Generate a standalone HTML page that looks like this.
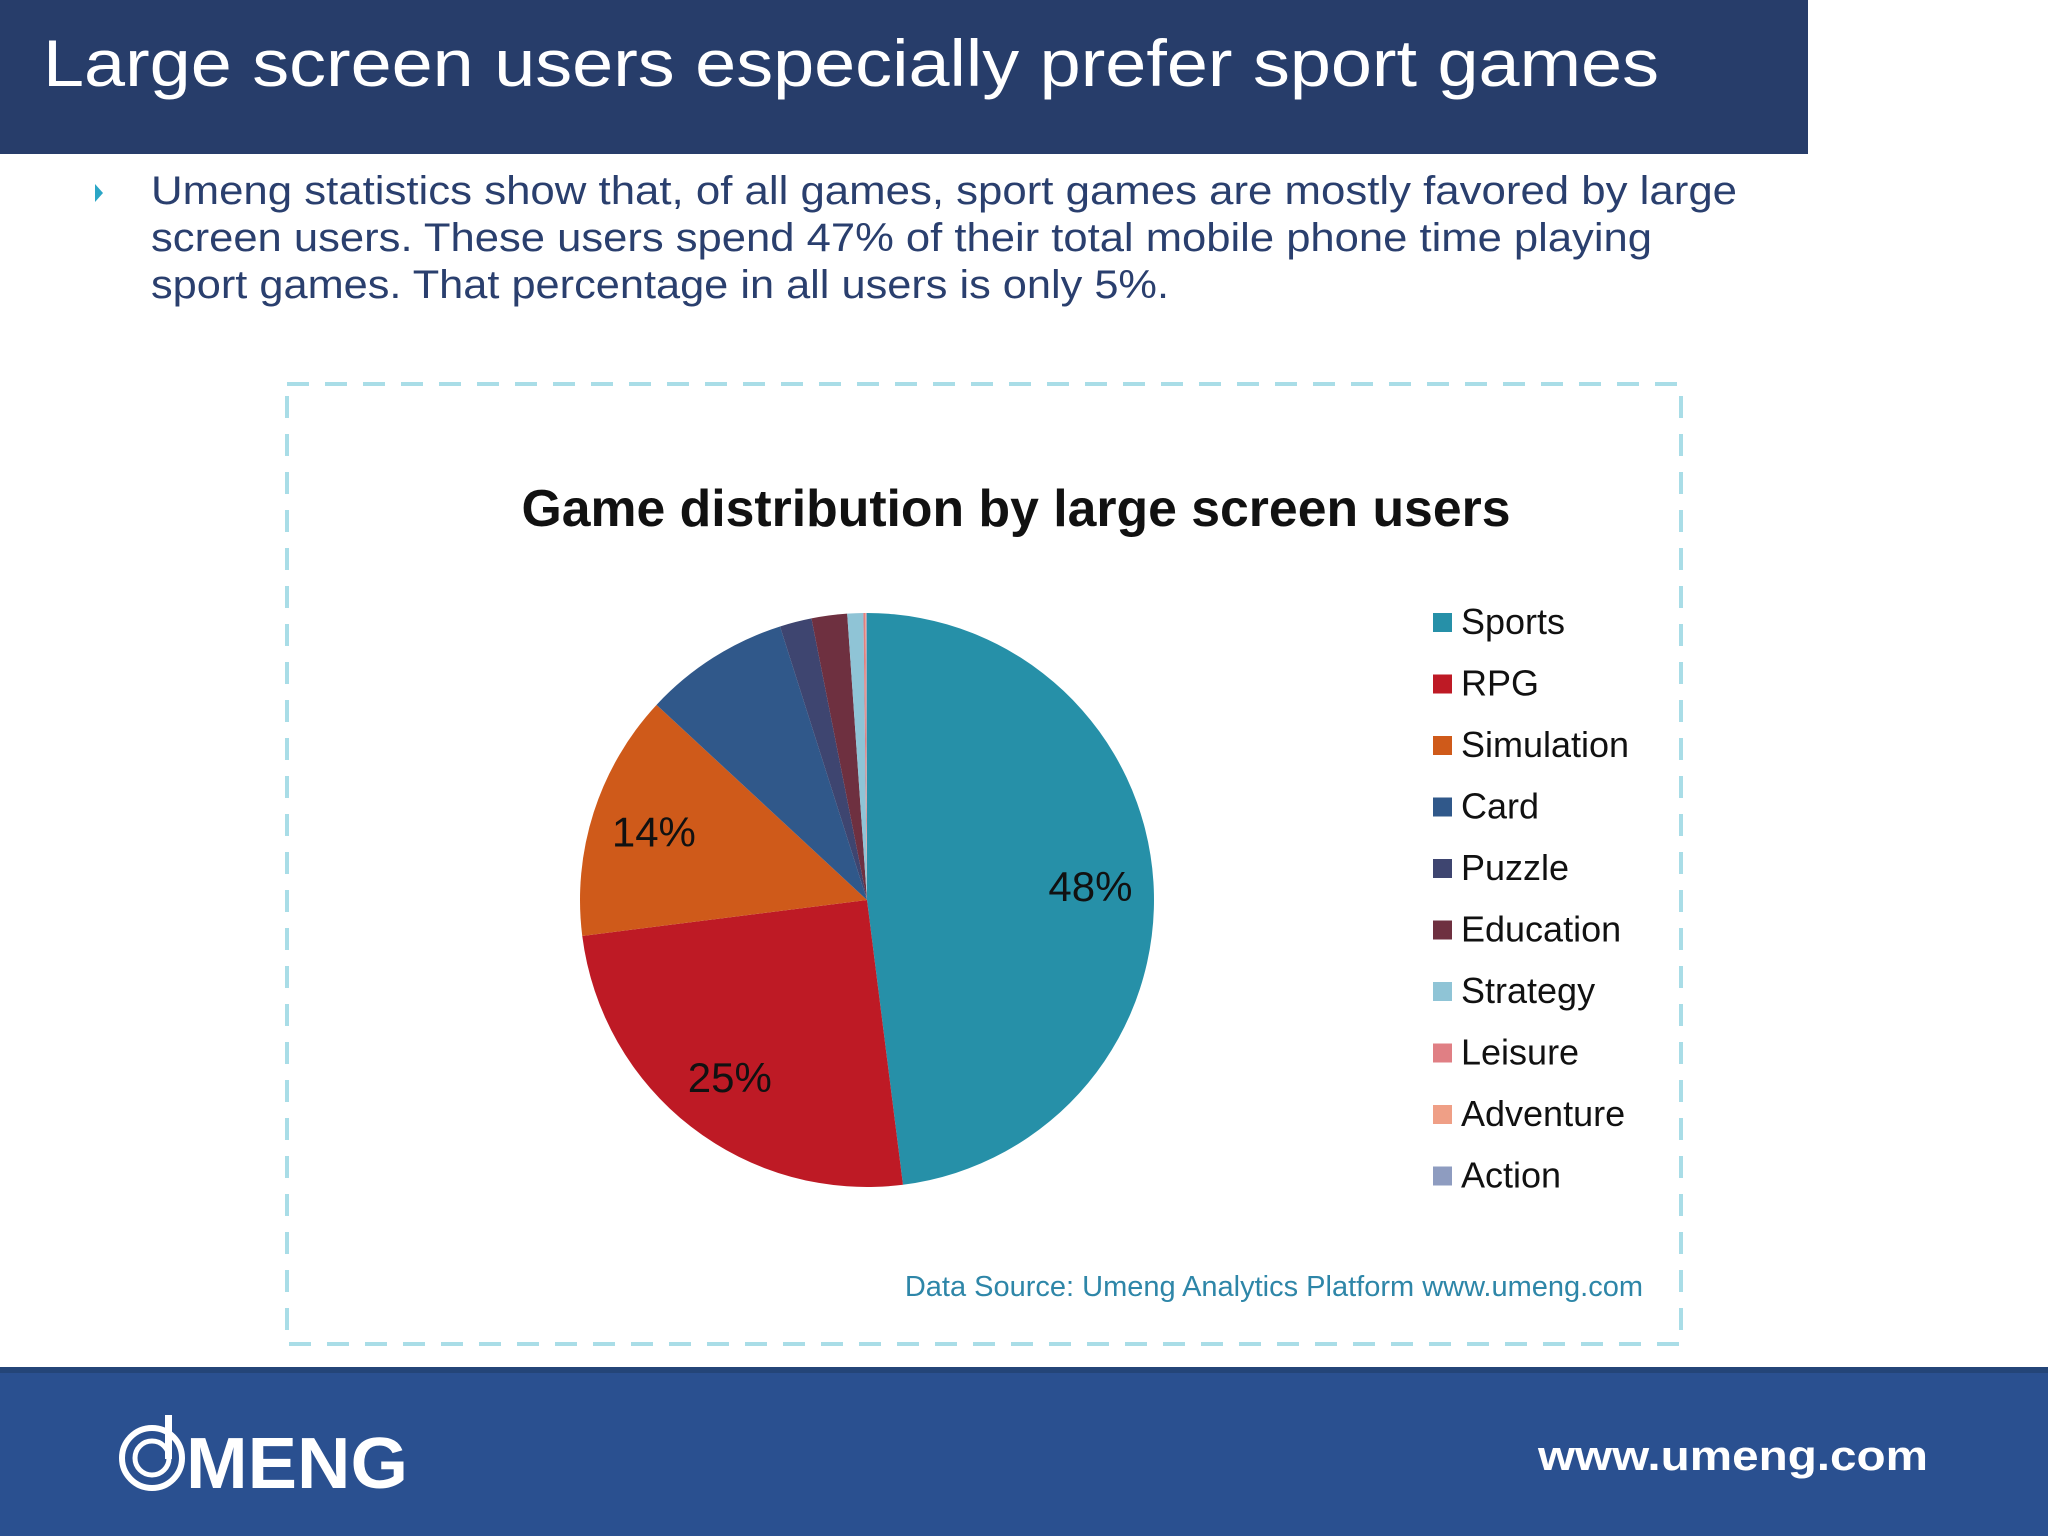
<!DOCTYPE html>
<html><head><meta charset="utf-8"><style>
html,body{margin:0;padding:0;background:#fff}
svg{display:block}
text{font-family:"Liberation Sans","DejaVu Sans",sans-serif}
</style></head><body>
<svg id="s" width="2048" height="1536" viewBox="0 0 2048 1536">
<rect x="0" y="0" width="1808" height="154" fill="#273d6a"/>
<text x="43" y="86" font-size="66" fill="#fff" textLength="1616" lengthAdjust="spacingAndGlyphs">Large screen users especially prefer sport games</text>
<polygon points="95,184 103,193 95,202" fill="#2ba6c6"/>
<g fill="#2a3f6e" font-size="40">
<text x="151" y="204" textLength="1586" lengthAdjust="spacingAndGlyphs">Umeng statistics show that, of all games, sport games are mostly favored by large</text>
<text x="151" y="251" textLength="1501" lengthAdjust="spacingAndGlyphs">screen users. These users spend 47% of their total mobile phone time playing</text>
<text x="151" y="298" textLength="1018" lengthAdjust="spacingAndGlyphs">sport games. That percentage in all users is only 5%.</text>
</g>
<rect x="287" y="384" width="1394" height="960" fill="none" stroke="#a9dde7" stroke-width="4" stroke-dasharray="22,16"/>
<text x="1016" y="526" font-size="52" font-weight="bold" fill="#111" text-anchor="middle" textLength="989" lengthAdjust="spacingAndGlyphs">Game distribution by large screen users</text>
<g id="pie"></g>
<g id="legend"></g>
<text x="1643" y="1296" font-size="29" fill="#2e86a8" text-anchor="end">Data Source: Umeng Analytics Platform www.umeng.com</text>
<rect x="0" y="1367" width="2048" height="169" fill="#2a5090"/>
<rect x="0" y="1367" width="2048" height="6" fill="#244578"/>
<g>
<circle cx="152" cy="1458" r="30" fill="none" stroke="#fff" stroke-width="6"/>
<circle cx="152" cy="1458" r="17" fill="none" stroke="#fff" stroke-width="5"/>
<rect x="165" y="1415" width="7" height="44" fill="#fff"/>
<text x="186" y="1488" font-size="72" font-weight="bold" fill="#fff" textLength="222" lengthAdjust="spacingAndGlyphs">MENG</text>
</g>
<text x="1538" y="1470" font-size="42" font-weight="bold" fill="#fff" textLength="390" lengthAdjust="spacingAndGlyphs">www.umeng.com</text>
</svg>
<script>
const categories=["Sports","RPG","Simulation","Card","Puzzle","Education","Strategy","Leisure","Adventure","Action"];
const values=[48,25,13.9,8.2,1.8,2,0.9,0.1,0.05,0.05];
const labels=["48%","25%","14%","","","","","","",""];
const colors=["#2690a8","#be1a25","#cf5a1a","#30588a","#3e4570","#6e3040","#8fc4d6","#e07f84","#ef9f86","#8e9cc0"];
const NS="http://www.w3.org/2000/svg";
const cx=867,cy=900,r=287;
const total=values.reduce((a,b)=>a+b,0);
function pt(a,rr){return [cx+rr*Math.sin(a),cy-rr*Math.cos(a)];}
const pie=document.getElementById('pie');
let acc=0;
values.forEach((v,i)=>{
  const a0=acc/total*2*Math.PI; acc+=v; const a1=acc/total*2*Math.PI;
  const p0=pt(a0,r),p1=pt(a1,r);
  const path=document.createElementNS(NS,'path');
  path.setAttribute('d',`M${cx},${cy}L${p0[0]},${p0[1]}A${r},${r} 0 ${a1-a0>Math.PI?1:0} 1 ${p1[0]},${p1[1]}Z`);
  path.setAttribute('fill',colors[i]);
  
  
  pie.appendChild(path);
  if(labels[i]){
    const m=(a0+a1)/2, lp=pt(m,r*0.78);
    const t=document.createElementNS(NS,'text');
    t.setAttribute('x',lp[0]);t.setAttribute('y',lp[1]+15);
    t.setAttribute('text-anchor','middle');t.setAttribute('font-size','42');t.setAttribute('fill','#111');
    t.textContent=labels[i];
    
    
    pie.appendChild(t);
  }
});
const lg=document.getElementById('legend');
categories.forEach((c,i)=>{
  const y=622+i*61.5;
  const s=document.createElementNS(NS,'rect');
  s.setAttribute('x',1433);s.setAttribute('y',y-9);s.setAttribute('width',19);s.setAttribute('height',19);s.setAttribute('fill',colors[i]);
  
  
  lg.appendChild(s);
  const t=document.createElementNS(NS,'text');
  t.setAttribute('x',1461);t.setAttribute('y',y+12);t.setAttribute('font-size','36');t.setAttribute('fill','#111');
  t.textContent=c;
  
  
  lg.appendChild(t);
});
</script>
</body></html>
